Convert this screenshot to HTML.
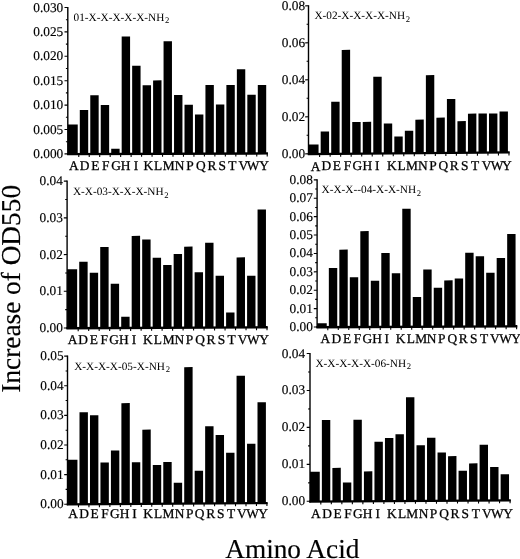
<!DOCTYPE html><html><head><meta charset="utf-8"><title>Figure</title><style>html,body{margin:0;padding:0;background:#fff}svg{display:block}text{font-family:"Liberation Serif", serif;fill:#000;stroke:#000;stroke-width:0.15px;text-rendering:geometricPrecision}</style></head><body>
<svg width="520" height="559" viewBox="0 0 520 559">
<rect width="520" height="559" fill="#fff"/>
<g transform="matrix(1 -0.00352 0 1 0 0.2386)"><rect x="67.80" y="124.62" width="9.94" height="29.28" fill="#000"/><rect x="79.80" y="109.98" width="8.40" height="43.92" fill="#000"/><rect x="90.27" y="95.34" width="8.40" height="58.56" fill="#000"/><rect x="100.74" y="105.10" width="8.40" height="48.80" fill="#000"/><rect x="111.21" y="149.02" width="8.40" height="4.88" fill="#000"/><rect x="121.68" y="36.78" width="8.40" height="117.12" fill="#000"/><rect x="132.16" y="66.06" width="8.40" height="87.84" fill="#000"/><rect x="142.62" y="85.58" width="8.40" height="68.32" fill="#000"/><rect x="153.10" y="80.70" width="8.40" height="73.20" fill="#000"/><rect x="163.56" y="41.66" width="8.40" height="112.24" fill="#000"/><rect x="174.04" y="95.34" width="8.40" height="58.56" fill="#000"/><rect x="184.50" y="105.10" width="8.40" height="48.80" fill="#000"/><rect x="194.98" y="114.86" width="8.40" height="39.04" fill="#000"/><rect x="205.44" y="85.58" width="8.40" height="68.32" fill="#000"/><rect x="215.92" y="105.10" width="8.40" height="48.80" fill="#000"/><rect x="226.38" y="85.58" width="8.40" height="68.32" fill="#000"/><rect x="236.86" y="69.96" width="8.40" height="83.94" fill="#000"/><rect x="247.33" y="95.34" width="8.40" height="58.56" fill="#000"/><rect x="257.80" y="85.58" width="8.40" height="68.32" fill="#000"/><path d="M67.80 6.95 V155.00" fill="none" stroke="#000" stroke-width="1.4"/><path d="M67.05 154.15 H267.93" fill="none" stroke="#000" stroke-width="2.3"/><path d="M64.50 153.90H67.80M65.90 141.70H67.80M64.50 129.50H67.80M65.90 117.30H67.80M64.50 105.10H67.80M65.90 92.90H67.80M64.50 80.70H67.80M65.90 68.50H67.80M64.50 56.30H67.80M65.90 44.10H67.80M64.50 31.90H67.80M65.90 19.70H67.80M64.50 7.50H67.80M78.77 153.90V157.10M89.24 153.90V157.10M99.71 153.90V157.10M110.18 153.90V157.10M120.65 153.90V157.10M131.12 153.90V157.10M141.59 153.90V157.10M152.06 153.90V157.10M162.53 153.90V157.10M173.00 153.90V157.10M183.47 153.90V157.10M193.94 153.90V157.10M204.41 153.90V157.10M214.88 153.90V157.10M225.35 153.90V157.10M235.82 153.90V157.10M246.29 153.90V157.10M256.76 153.90V157.10M267.23 153.90V157.10" fill="none" stroke="#000" stroke-width="1.1"/></g>
<g><text x="63.30" y="157.90" font-size="13.33" text-anchor="end">0.000</text><text x="63.30" y="133.50" font-size="13.33" text-anchor="end">0.005</text><text x="63.30" y="109.10" font-size="13.33" text-anchor="end">0.010</text><text x="63.30" y="84.70" font-size="13.33" text-anchor="end">0.015</text><text x="63.30" y="60.30" font-size="13.33" text-anchor="end">0.020</text><text x="63.30" y="35.90" font-size="13.33" text-anchor="end">0.025</text><text x="63.30" y="11.50" font-size="13.33" text-anchor="end">0.030</text><text x="73.83 84.60 95.37 105.64 116.11 125.58 136.06 148.38 158.20 168.66 179.64 189.91 200.73 211.94 222.32 232.38 243.26 253.03 264.00" y="170.20 170.20 170.20 170.20 170.20 170.20 170.20 170.20 170.20 170.20 170.20 170.20 170.20 170.20 170.20 170.20 170.20 170.20 170.20" font-size="13.4" text-anchor="middle" style="stroke-width:0.28px">ADEFGHIKLMNPQRSTVWY</text><text style="stroke:none" x="73.60" y="20.80" font-size="11.27">01-X-X-X-X-X-NH<tspan font-size="8.6" dx="0.7" dy="2.5">2</tspan></text></g>
<g transform="matrix(1 -0.00800 0 1 0 2.4695)"><rect x="308.50" y="144.55" width="10.06" height="9.25" fill="#000"/><rect x="320.68" y="131.60" width="8.40" height="22.20" fill="#000"/><rect x="331.20" y="102.00" width="8.40" height="51.80" fill="#000"/><rect x="341.72" y="50.20" width="8.40" height="103.60" fill="#000"/><rect x="352.24" y="122.35" width="8.40" height="31.45" fill="#000"/><rect x="362.76" y="122.35" width="8.40" height="31.45" fill="#000"/><rect x="373.28" y="77.21" width="8.40" height="76.59" fill="#000"/><rect x="383.80" y="124.20" width="8.40" height="29.60" fill="#000"/><rect x="394.32" y="137.15" width="8.40" height="16.65" fill="#000"/><rect x="404.84" y="131.60" width="8.40" height="22.20" fill="#000"/><rect x="415.36" y="120.50" width="8.40" height="33.30" fill="#000"/><rect x="425.88" y="76.10" width="8.40" height="77.70" fill="#000"/><rect x="436.40" y="118.65" width="8.40" height="35.15" fill="#000"/><rect x="446.92" y="100.15" width="8.40" height="53.65" fill="#000"/><rect x="457.44" y="122.35" width="8.40" height="31.45" fill="#000"/><rect x="467.96" y="114.95" width="8.40" height="38.85" fill="#000"/><rect x="478.48" y="114.95" width="8.40" height="38.85" fill="#000"/><rect x="489.00" y="114.95" width="8.40" height="38.85" fill="#000"/><rect x="499.52" y="113.10" width="8.40" height="40.70" fill="#000"/><path d="M308.50 5.25 V154.90" fill="none" stroke="#000" stroke-width="1.4"/><path d="M307.75 154.05 H509.68" fill="none" stroke="#000" stroke-width="2.3"/><path d="M305.20 153.80H308.50M306.60 135.30H308.50M305.20 116.80H308.50M306.60 98.30H308.50M305.20 79.80H308.50M306.60 61.30H308.50M305.20 42.80H308.50M306.60 24.30H308.50M305.20 5.80H308.50M319.62 153.80V157.00M330.14 153.80V157.00M340.66 153.80V157.00M351.18 153.80V157.00M361.70 153.80V157.00M372.22 153.80V157.00M382.74 153.80V157.00M393.26 153.80V157.00M403.78 153.80V157.00M414.30 153.80V157.00M424.82 153.80V157.00M435.34 153.80V157.00M445.86 153.80V157.00M456.38 153.80V157.00M466.90 153.80V157.00M477.42 153.80V157.00M487.94 153.80V157.00M498.46 153.80V157.00M508.98 153.80V157.00" fill="none" stroke="#000" stroke-width="1.1"/></g>
<g><text x="305.10" y="157.80" font-size="13.33" text-anchor="end">0.00</text><text x="305.10" y="120.80" font-size="13.33" text-anchor="end">0.02</text><text x="305.10" y="83.80" font-size="13.33" text-anchor="end">0.04</text><text x="305.10" y="46.80" font-size="13.33" text-anchor="end">0.06</text><text x="305.10" y="9.80" font-size="13.33" text-anchor="end">0.08</text><text x="315.66 326.43 336.95 347.47 357.24 367.26 377.28 391.80 401.52 412.04 422.96 432.88 443.40 454.32 464.69 475.06 486.48 497.10 506.77" y="170.50 170.46 170.42 170.38 170.34 170.31 170.27 170.23 170.19 170.15 170.11 170.07 170.03 169.99 169.96 169.92 169.88 169.84 169.80" font-size="13.4" text-anchor="middle" style="stroke-width:0.28px">ADEFGHIKLMNPQRSTVWY</text><text style="stroke:none" x="314.40" y="19.20" font-size="11.27">X-02-X-X-X-X-NH<tspan font-size="8.6" dx="0.7" dy="2.5">2</tspan></text></g>
<g transform="matrix(1 -0.00502 0 1 0 0.3367)"><rect x="67.10" y="269.26" width="10.05" height="58.74" fill="#000"/><rect x="79.23" y="261.92" width="8.40" height="66.08" fill="#000"/><rect x="89.73" y="272.93" width="8.40" height="55.07" fill="#000"/><rect x="100.22" y="247.23" width="8.40" height="80.77" fill="#000"/><rect x="110.70" y="283.94" width="8.40" height="44.05" fill="#000"/><rect x="121.20" y="316.99" width="8.40" height="11.01" fill="#000"/><rect x="131.69" y="236.22" width="8.40" height="91.78" fill="#000"/><rect x="142.18" y="239.89" width="8.40" height="88.11" fill="#000"/><rect x="152.67" y="258.25" width="8.40" height="69.75" fill="#000"/><rect x="163.16" y="265.59" width="8.40" height="62.41" fill="#000"/><rect x="173.65" y="254.57" width="8.40" height="73.42" fill="#000"/><rect x="184.14" y="247.23" width="8.40" height="80.77" fill="#000"/><rect x="194.62" y="272.93" width="8.40" height="55.07" fill="#000"/><rect x="205.12" y="243.56" width="8.40" height="84.44" fill="#000"/><rect x="215.61" y="276.60" width="8.40" height="51.40" fill="#000"/><rect x="226.10" y="313.31" width="8.40" height="14.69" fill="#000"/><rect x="236.59" y="258.25" width="8.40" height="69.75" fill="#000"/><rect x="247.08" y="276.60" width="8.40" height="51.40" fill="#000"/><rect x="257.56" y="210.52" width="8.40" height="117.48" fill="#000"/><path d="M67.10 180.60 V329.10" fill="none" stroke="#000" stroke-width="1.4"/><path d="M66.35 328.25 H267.71" fill="none" stroke="#000" stroke-width="2.3"/><path d="M63.80 328.00H67.10M65.20 309.64H67.10M63.80 291.29H67.10M65.20 272.93H67.10M63.80 254.57H67.10M65.20 236.22H67.10M63.80 217.86H67.10M65.20 199.51H67.10M63.80 181.15H67.10M78.19 328.00V331.20M88.68 328.00V331.20M99.17 328.00V331.20M109.66 328.00V331.20M120.15 328.00V331.20M130.64 328.00V331.20M141.13 328.00V331.20M151.62 328.00V331.20M162.11 328.00V331.20M172.60 328.00V331.20M183.09 328.00V331.20M193.58 328.00V331.20M204.07 328.00V331.20M214.56 328.00V331.20M225.05 328.00V331.20M235.54 328.00V331.20M246.03 328.00V331.20M256.52 328.00V331.20M267.01 328.00V331.20" fill="none" stroke="#000" stroke-width="1.1"/></g>
<g><text x="62.80" y="332.00" font-size="13.33" text-anchor="end">0.00</text><text x="62.80" y="295.29" font-size="13.33" text-anchor="end">0.01</text><text x="62.80" y="258.57" font-size="13.33" text-anchor="end">0.02</text><text x="62.80" y="221.86" font-size="13.33" text-anchor="end">0.03</text><text x="62.80" y="185.15" font-size="13.33" text-anchor="end">0.04</text><text x="72.50 83.14 93.83 104.31 114.11 123.80 134.09 147.93 157.92 168.66 179.40 189.54 200.12 211.02 221.36 231.50 242.49 253.33 264.06" y="343.80 343.80 343.80 343.80 343.80 343.80 343.80 343.80 343.80 343.80 343.80 343.80 343.80 343.80 343.80 343.80 343.80 343.80 343.80" font-size="13.4" text-anchor="middle" style="stroke-width:0.28px">ADEFGHIKLMNPQRSTVWY</text><text style="stroke:none" x="72.90" y="195.00" font-size="11.27">X-X-03-X-X-X-NH<tspan font-size="8.6" dx="0.7" dy="2.5">2</tspan></text></g>
<g transform="matrix(1 -0.00502 0 1 0 1.5910)"><rect x="317.10" y="323.32" width="9.64" height="3.68" fill="#000"/><rect x="328.84" y="268.14" width="8.40" height="58.86" fill="#000"/><rect x="339.33" y="249.75" width="8.40" height="77.25" fill="#000"/><rect x="349.81" y="277.34" width="8.40" height="49.66" fill="#000"/><rect x="360.31" y="231.35" width="8.40" height="95.65" fill="#000"/><rect x="370.80" y="281.02" width="8.40" height="45.98" fill="#000"/><rect x="381.29" y="253.43" width="8.40" height="73.58" fill="#000"/><rect x="391.78" y="273.66" width="8.40" height="53.34" fill="#000"/><rect x="402.27" y="209.28" width="8.40" height="117.72" fill="#000"/><rect x="412.76" y="297.57" width="8.40" height="29.43" fill="#000"/><rect x="423.25" y="269.98" width="8.40" height="57.02" fill="#000"/><rect x="433.74" y="288.37" width="8.40" height="38.63" fill="#000"/><rect x="444.23" y="281.02" width="8.40" height="45.98" fill="#000"/><rect x="454.72" y="279.18" width="8.40" height="47.82" fill="#000"/><rect x="465.20" y="253.43" width="8.40" height="73.58" fill="#000"/><rect x="475.69" y="257.10" width="8.40" height="69.90" fill="#000"/><rect x="486.19" y="273.66" width="8.40" height="53.34" fill="#000"/><rect x="496.68" y="258.94" width="8.40" height="68.06" fill="#000"/><rect x="507.17" y="235.03" width="8.40" height="91.97" fill="#000"/><path d="M317.10 179.30 V328.10" fill="none" stroke="#000" stroke-width="1.4"/><path d="M316.35 327.25 H517.31" fill="none" stroke="#000" stroke-width="2.3"/><path d="M313.80 327.00H317.10M315.20 317.80H317.10M313.80 308.61H317.10M315.20 299.41H317.10M313.80 290.21H317.10M315.20 281.02H317.10M313.80 271.82H317.10M315.20 262.62H317.10M313.80 253.43H317.10M315.20 244.23H317.10M313.80 235.03H317.10M315.20 225.83H317.10M313.80 216.64H317.10M315.20 207.44H317.10M313.80 198.24H317.10M315.20 189.05H317.10M313.80 179.85H317.10M327.79 327.00V330.20M338.28 327.00V330.20M348.77 327.00V330.20M359.26 327.00V330.20M369.75 327.00V330.20M380.24 327.00V330.20M390.73 327.00V330.20M401.22 327.00V330.20M411.71 327.00V330.20M422.20 327.00V330.20M432.69 327.00V330.20M443.18 327.00V330.20M453.67 327.00V330.20M464.16 327.00V330.20M474.65 327.00V330.20M485.14 327.00V330.20M495.63 327.00V330.20M506.12 327.00V330.20M516.61 327.00V330.20" fill="none" stroke="#000" stroke-width="1.1"/></g>
<g><text x="312.80" y="331.00" font-size="13.33" text-anchor="end">0.00</text><text x="312.80" y="312.61" font-size="13.33" text-anchor="end">0.01</text><text x="312.80" y="294.21" font-size="13.33" text-anchor="end">0.02</text><text x="312.80" y="275.82" font-size="13.33" text-anchor="end">0.03</text><text x="312.80" y="257.43" font-size="13.33" text-anchor="end">0.04</text><text x="312.80" y="239.03" font-size="13.33" text-anchor="end">0.05</text><text x="312.80" y="220.64" font-size="13.33" text-anchor="end">0.06</text><text x="312.80" y="202.24" font-size="13.33" text-anchor="end">0.07</text><text x="312.80" y="183.85" font-size="13.33" text-anchor="end">0.08</text><text x="325.35 336.44 347.08 357.42 367.31 377.19 386.79 400.53 410.87 421.16 431.55 441.74 452.23 463.32 473.70 484.19 494.94 505.57 516.16" y="342.90 342.90 342.90 342.90 342.90 342.90 342.90 342.90 342.90 342.90 342.90 342.90 342.90 342.90 342.90 342.90 342.90 342.90 342.90" font-size="13.4" text-anchor="middle" style="stroke-width:0.28px">ADEFGHIKLMNPQRSTVWY</text><text style="stroke:none" x="321.60" y="193.40" font-size="11.27">X-X-X--04-X-X-NH<tspan font-size="8.6" dx="0.7" dy="2.5">2</tspan></text></g>
<g transform="matrix(1 -0.00704 0 1 0 0.4750)"><rect x="67.50" y="459.78" width="9.94" height="44.41" fill="#000"/><rect x="79.50" y="412.41" width="8.40" height="91.79" fill="#000"/><rect x="89.97" y="415.37" width="8.40" height="88.83" fill="#000"/><rect x="100.45" y="462.75" width="8.40" height="41.45" fill="#000"/><rect x="110.92" y="450.90" width="8.40" height="53.30" fill="#000"/><rect x="121.39" y="403.53" width="8.40" height="100.67" fill="#000"/><rect x="131.86" y="462.75" width="8.40" height="41.45" fill="#000"/><rect x="142.33" y="430.17" width="8.40" height="74.03" fill="#000"/><rect x="152.80" y="465.71" width="8.40" height="38.49" fill="#000"/><rect x="163.27" y="462.75" width="8.40" height="41.45" fill="#000"/><rect x="173.74" y="483.47" width="8.40" height="20.73" fill="#000"/><rect x="184.21" y="367.99" width="8.40" height="136.21" fill="#000"/><rect x="194.68" y="471.63" width="8.40" height="32.57" fill="#000"/><rect x="205.15" y="427.21" width="8.40" height="76.99" fill="#000"/><rect x="215.62" y="436.10" width="8.40" height="68.10" fill="#000"/><rect x="226.09" y="453.86" width="8.40" height="50.34" fill="#000"/><rect x="236.56" y="376.88" width="8.40" height="127.32" fill="#000"/><rect x="247.03" y="444.98" width="8.40" height="59.22" fill="#000"/><rect x="257.50" y="403.53" width="8.40" height="100.67" fill="#000"/><path d="M67.50 355.60 V505.30" fill="none" stroke="#000" stroke-width="1.4"/><path d="M66.75 504.45 H267.63" fill="none" stroke="#000" stroke-width="2.3"/><path d="M64.20 504.20H67.50M65.60 489.39H67.50M64.20 474.59H67.50M65.60 459.78H67.50M64.20 444.98H67.50M65.60 430.18H67.50M64.20 415.37H67.50M65.60 400.56H67.50M64.20 385.76H67.50M65.60 370.95H67.50M64.20 356.15H67.50M78.47 504.20V507.40M88.94 504.20V507.40M99.41 504.20V507.40M109.88 504.20V507.40M120.35 504.20V507.40M130.82 504.20V507.40M141.29 504.20V507.40M151.76 504.20V507.40M162.23 504.20V507.40M172.70 504.20V507.40M183.17 504.20V507.40M193.64 504.20V507.40M204.11 504.20V507.40M214.58 504.20V507.40M225.05 504.20V507.40M235.52 504.20V507.40M245.99 504.20V507.40M256.46 504.20V507.40M266.93 504.20V507.40" fill="none" stroke="#000" stroke-width="1.1"/></g>
<g><text x="63.60" y="508.20" font-size="13.33" text-anchor="end">0.00</text><text x="63.60" y="478.59" font-size="13.33" text-anchor="end">0.01</text><text x="63.60" y="448.98" font-size="13.33" text-anchor="end">0.02</text><text x="63.60" y="419.37" font-size="13.33" text-anchor="end">0.03</text><text x="63.60" y="389.76" font-size="13.33" text-anchor="end">0.04</text><text x="63.60" y="360.15" font-size="13.33" text-anchor="end">0.05</text><text x="73.13 84.00 94.47 104.95 114.82 124.48 134.36 148.08 158.20 168.57 179.49 189.61 199.68 210.65 220.72 230.99 241.96 252.53 263.10" y="518.20 518.20 518.20 518.20 518.20 518.20 518.20 518.20 518.20 518.20 518.20 518.20 518.20 518.20 518.20 518.20 518.20 518.20 518.20" font-size="13.4" text-anchor="middle" style="stroke-width:0.28px">ADEFGHIKLMNPQRSTVWY</text><text style="stroke:none" x="74.20" y="369.60" font-size="11.27">X-X-X-X-05-X-NH<tspan font-size="8.6" dx="0.7" dy="2.5">2</tspan></text></g>
<g transform="matrix(1 -0.00601 0 1 0 1.8620)"><rect x="310.00" y="471.74" width="9.76" height="29.56" fill="#000"/><rect x="321.87" y="420.01" width="8.40" height="81.29" fill="#000"/><rect x="332.39" y="468.05" width="8.40" height="33.25" fill="#000"/><rect x="342.90" y="482.82" width="8.40" height="18.48" fill="#000"/><rect x="353.42" y="420.01" width="8.40" height="81.29" fill="#000"/><rect x="363.93" y="471.74" width="8.40" height="29.56" fill="#000"/><rect x="374.45" y="442.18" width="8.40" height="59.12" fill="#000"/><rect x="384.96" y="438.49" width="8.40" height="62.82" fill="#000"/><rect x="395.48" y="434.79" width="8.40" height="66.51" fill="#000"/><rect x="405.99" y="397.84" width="8.40" height="103.46" fill="#000"/><rect x="416.51" y="445.88" width="8.40" height="55.42" fill="#000"/><rect x="427.02" y="438.49" width="8.40" height="62.82" fill="#000"/><rect x="437.54" y="453.26" width="8.40" height="48.03" fill="#000"/><rect x="448.05" y="456.96" width="8.40" height="44.34" fill="#000"/><rect x="458.57" y="471.74" width="8.40" height="29.56" fill="#000"/><rect x="469.08" y="464.35" width="8.40" height="36.95" fill="#000"/><rect x="479.60" y="445.88" width="8.40" height="55.42" fill="#000"/><rect x="490.11" y="468.05" width="8.40" height="33.25" fill="#000"/><rect x="500.63" y="475.44" width="8.40" height="25.87" fill="#000"/><path d="M310.00 352.95 V502.40" fill="none" stroke="#000" stroke-width="1.4"/><path d="M309.25 501.55 H510.79" fill="none" stroke="#000" stroke-width="2.3"/><path d="M306.70 501.30H310.00M308.10 482.82H310.00M306.70 464.35H310.00M308.10 445.88H310.00M306.70 427.40H310.00M308.10 408.92H310.00M306.70 390.45H310.00M308.10 371.98H310.00M306.70 353.50H310.00M320.81 501.30V504.50M331.33 501.30V504.50M341.85 501.30V504.50M352.36 501.30V504.50M362.88 501.30V504.50M373.39 501.30V504.50M383.91 501.30V504.50M394.42 501.30V504.50M404.94 501.30V504.50M415.45 501.30V504.50M425.97 501.30V504.50M436.48 501.30V504.50M447.00 501.30V504.50M457.51 501.30V504.50M468.03 501.30V504.50M478.54 501.30V504.50M489.06 501.30V504.50M499.57 501.30V504.50M510.09 501.30V504.50" fill="none" stroke="#000" stroke-width="1.1"/></g>
<g><text x="305.20" y="505.30" font-size="13.33" text-anchor="end">0.00</text><text x="305.20" y="468.35" font-size="13.33" text-anchor="end">0.01</text><text x="305.20" y="431.40" font-size="13.33" text-anchor="end">0.02</text><text x="305.20" y="394.45" font-size="13.33" text-anchor="end">0.03</text><text x="305.20" y="357.50" font-size="13.33" text-anchor="end">0.04</text><text x="315.86 326.97 337.64 348.00 357.92 367.68 377.70 391.96 402.08 412.24 423.51 433.52 444.04 455.05 465.32 475.83 486.85 497.36 508.03" y="518.30 518.30 518.30 518.30 518.30 518.30 518.30 518.30 518.30 518.30 518.30 518.30 518.30 518.30 518.30 518.30 518.30 518.30 518.30" font-size="13.4" text-anchor="middle" style="stroke-width:0.28px">ADEFGHIKLMNPQRSTVWY</text><text style="stroke:none" x="315.40" y="366.50" font-size="11.27">X-X-X-X-X-06-NH<tspan font-size="8.6" dx="0.7" dy="2.5">2</tspan></text></g>
<text transform="translate(19.8,288.8) rotate(-90)" font-size="27.3" text-anchor="middle">Increase of OD550</text>
<text x="292.3" y="557.7" font-size="27.3" text-anchor="middle">Amino Acid</text>
</svg></body></html>
